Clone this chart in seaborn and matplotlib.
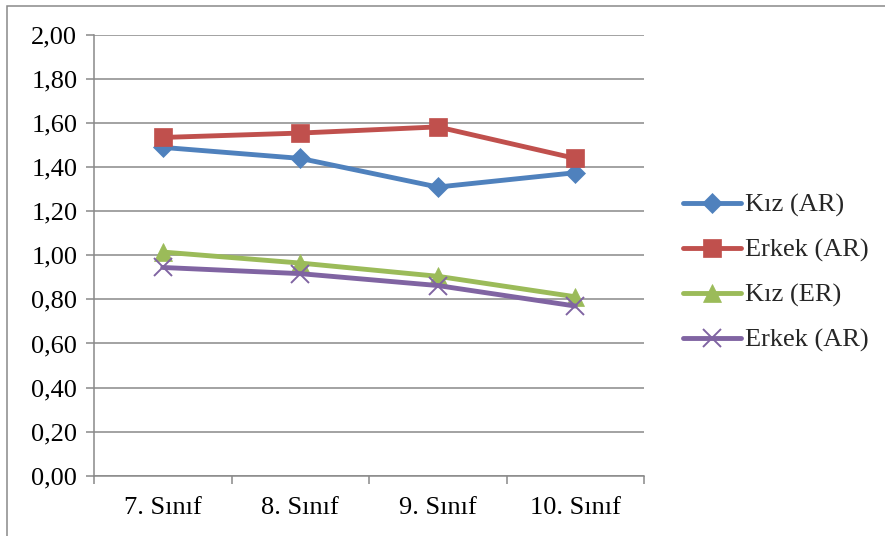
import numpy as np
import pandas as pd
import matplotlib
matplotlib.use("Agg")
import matplotlib.pyplot as plt
from matplotlib.patches import Rectangle
from matplotlib.ticker import FuncFormatter, FixedLocator
import seaborn as sns

# data
siniflar = ["7. Sınıf", "8. Sınıf", "9. Sınıf", "10. Sınıf"]
kiz_ar = [1.49, 1.44, 1.31, 1.375]
erkek_ar = [1.535, 1.555, 1.583, 1.44]
kiz_er = [1.015, 0.965, 0.905, 0.812]
erkek_ar2 = [0.945, 0.917, 0.863, 0.77]
etiketler = ["Kız (AR)", "Erkek (AR)", "Kız (ER)", "Erkek (AR)"]

sns.set_style("white")
plt.rcParams["font.family"] = ["Liberation Serif", "DejaVu Serif"]

grid_c = "#898989"
fig = plt.figure(figsize=(8.85, 5.36), dpi=100)
ax = fig.add_axes([94 / 885, 1 - 475.7 / 536, 550 / 885, (475.7 - 35) / 536])

# outer chart border (only top and left visible in the reference)
fig.patches.append(Rectangle((7 / 885, -0.1), 1.2, 1 - 6 / 536 + 0.1,
                             transform=fig.transFigure, fill=False,
                             edgecolor=grid_c, linewidth=1.1))

x = np.arange(len(siniflar))
series = [
    (kiz_ar, "#4F81BD", "D", 10),
    (erkek_ar, "#C0504D", "s", 13),
    (kiz_er, "#9BBB59", "^", 12.5),
    (erkek_ar2, "#8064A2", "x", 13),
]
for (vals, col, mk, ms), lab in zip(series, etiketler):
    df = pd.DataFrame({"x": x, "y": vals})
    sns.lineplot(data=df, x="x", y="y", ax=ax, color=col, linewidth=3.5,
                 marker=mk, markersize=ms, markeredgecolor=col,
                 markeredgewidth=1.4 if mk == "x" else 0.5, label=lab)

ax.set_ylim(0, 2.0)
ax.set_xlim(-0.5, len(siniflar) - 0.5)
ax.set_yticks(np.arange(0, 2.01, 0.2))
ax.yaxis.set_major_formatter(FuncFormatter(lambda v, p: f"{v:.2f}".replace(".", ",")))
ax.set_xticks(x)
ax.set_xticklabels(siniflar)
ax.xaxis.set_minor_locator(FixedLocator(np.arange(-0.5, len(siniflar), 1.0)))
ax.set_xlabel("")
ax.set_ylabel("")

ax.grid(axis="y", color=grid_c, linewidth=1.1)
ax.grid(axis="x", visible=False)
ax.set_axisbelow(True)
for s in ["top", "right"]:
    ax.spines[s].set_visible(False)
for s in ["left", "bottom"]:
    ax.spines[s].set_color(grid_c)
    ax.spines[s].set_linewidth(1.1)

ax.tick_params(axis="y", which="major", left=True, length=6, width=1.1,
               color=grid_c, pad=6, labelsize=19, labelcolor="black")
ax.tick_params(axis="x", which="major", bottom=False, length=0, pad=15,
               labelsize=19, labelcolor="black")
ax.tick_params(axis="x", which="minor", bottom=True, length=6, width=1.1,
               color=grid_c)

leg = ax.legend(loc="center left", bbox_to_anchor=(683 / 885, 1 - 273 / 536),
                bbox_transform=fig.transFigure, frameon=False, fontsize=19,
                handlelength=2.2, handletextpad=0.15, labelspacing=0.8,
                borderpad=0, borderaxespad=0)

fig.savefig("out.png", dpi=100)
